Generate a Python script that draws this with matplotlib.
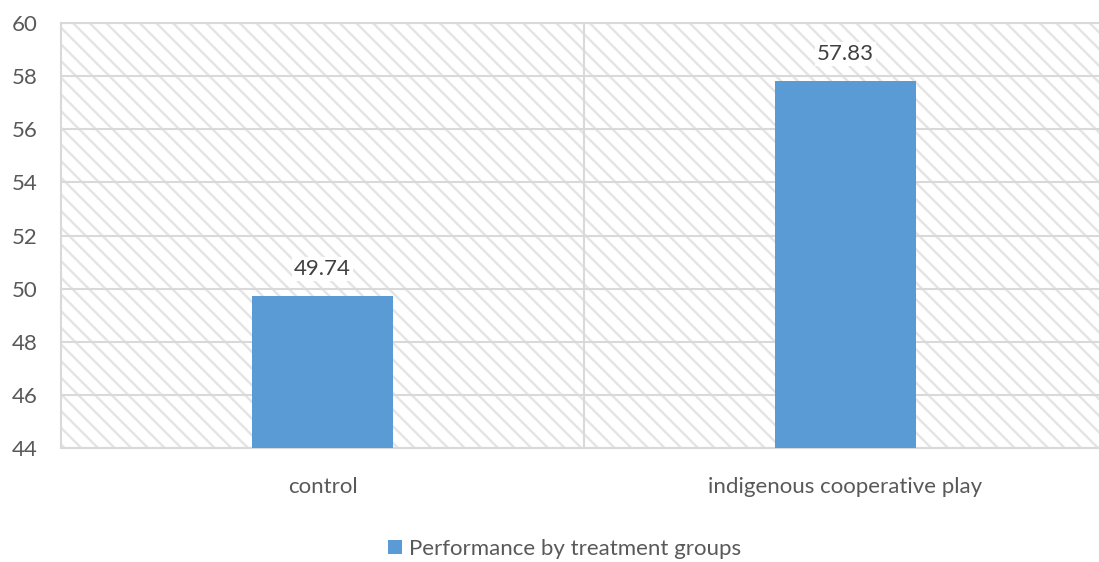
import matplotlib
matplotlib.use("Agg")
import matplotlib.pyplot as plt
from matplotlib.patches import Rectangle
from matplotlib.ticker import MultipleLocator, FixedLocator

categories = ["control", "indigenous cooperative play"]
values = [49.74, 57.83]
series_name = "Performance by treatment groups"
y_min, y_max, y_step = 44, 60, 2

bar_color = "#5b9bd5"
grid_color = "#d9d9d9"
text_color = "#595959"
label_color = "#404040"

plt.rcParams["font.family"] = ["Lato", "DejaVu Sans"]
plt.rcParams["hatch.linewidth"] = 1.7

fig = plt.figure(figsize=(10.99, 5.62), dpi=100)
ax = fig.add_axes([61 / 1099, 1 - 448 / 562, 1046 / 1099, 425 / 562])

# hatched plot-area background
bg = Rectangle((0, 0), 1, 1, transform=ax.transAxes, facecolor="white",
               edgecolor="#e4e4e4", linewidth=0, hatch="\\\\", zorder=0)
ax.add_patch(bg)

x = list(range(len(categories)))
bars = ax.bar(x, values, width=0.27, color=bar_color, zorder=3,
              label=series_name)

ax.set_xlim(-0.5, len(categories) - 0.5)
ax.set_ylim(y_min, y_max)
ax.yaxis.set_major_locator(MultipleLocator(y_step))
ax.set_xticks(x)
ax.set_xticklabels(categories)
ax.xaxis.set_minor_locator(FixedLocator([i + 0.5 for i in x[:-1]]))

ax.grid(axis="y", which="major", color=grid_color, linewidth=1.5, zorder=1)
ax.grid(axis="x", which="minor", color=grid_color, linewidth=1.5, zorder=1)
ax.set_axisbelow(True)

for s in ax.spines.values():
    s.set_color(grid_color)
    s.set_linewidth(1.5)

ax.tick_params(axis="both", which="both", length=0, colors=text_color,
               labelsize=16)
ax.tick_params(axis="y", pad=17)
ax.tick_params(axis="x", pad=21)

for rect, v in zip(bars, values):
    ax.annotate(f"{v:.2f}", (rect.get_x() + rect.get_width() / 2, v),
                xytext=(0, 19), textcoords="offset points",
                ha="center", va="center", fontsize=16, color=label_color,
                bbox=dict(facecolor="white", edgecolor="none", pad=1.5),
                zorder=4)

fig.legend(handles=[bars], labels=[series_name], loc="center",
           bbox_to_anchor=(565 / 1099, 1 - 549 / 562), frameon=False,
           fontsize=16, labelcolor=text_color, handlelength=0.6,
           handleheight=0.6, handletextpad=0.35)

fig.savefig("out.png", dpi=100)
